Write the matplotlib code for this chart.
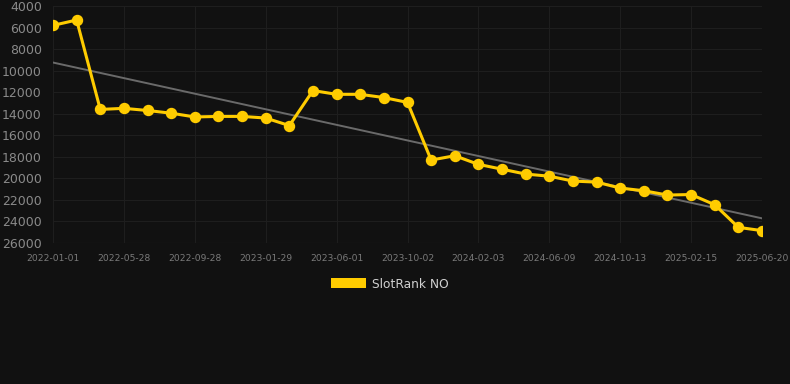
import numpy as np
from matplotlib import pyplot as plt
from matplotlib.patches import Patch

# rank per observation (lower on the chart = worse rank)
ranks = [5800, 5300, 13600, 13500, 13700, 13950, 14300, 14250, 14250, 14400,
         15100, 11850, 12200, 12200, 12500, 12950, 18300, 17900, 18700, 19150,
         19600, 19800, 20250, 20350, 20900, 21150, 21550, 21500, 22450, 24550,
         24850]
tick_labels = ['2022-01-01', '2022-05-28', '2022-09-28', '2023-01-29', '2023-06-01',
               '2023-10-02', '2024-02-03', '2024-06-09', '2024-10-13', '2025-02-15',
               '2025-06-20']
y_ticks = [4000, 6000, 8000, 10000, 12000, 14000, 16000, 18000, 20000, 22000, 24000, 26000]
series_name = 'SlotRank NO'

bg = '#111111'
gold = '#FFCC00'

x = np.arange(len(ranks))
slope, intercept = np.polyfit(x, ranks, 1)
trend = slope * x + intercept

fig = plt.figure(figsize=(7.9, 3.84), dpi=100, facecolor=bg)
ax = fig.add_axes([53 / 790, 1 - 243 / 384, (762 - 53) / 790, (243 - 6) / 384])
ax.set_facecolor(bg)

ax.plot(x, trend, color='#6a6a6a', linewidth=1.4, zorder=2)
ax.plot(x, ranks, color=gold, linewidth=2.2, marker='o', markersize=7.2, zorder=3)

ax.set_xlim(0, len(ranks) - 1)
ax.set_ylim(26000, 4000)
ax.set_yticks(y_ticks)
ax.set_xticks(x[::3])
ax.set_xticklabels(tick_labels)

ax.grid(True, color='#1e1e1e', linewidth=0.8)
ax.axhline(26000, color='#2a2a2a', linewidth=0.8, zorder=1)
ax.set_axisbelow(True)
for s in ax.spines.values():
    s.set_visible(False)
ax.tick_params(axis='y', colors='#8a8a8a', labelsize=9, length=0, pad=8)
ax.tick_params(axis='x', colors='#7a7a7a', labelsize=6.6, length=0, pad=8)

fig.legend(handles=[Patch(facecolor=gold, label=series_name)],
           loc='center', bbox_to_anchor=(390 / 790, 1 - 284 / 384),
           frameon=False, labelcolor='#d0d0d0', fontsize=8.8,
           handlelength=2.9, handleheight=0.9, handletextpad=0.5)

fig.savefig('out.png', dpi=100, facecolor=bg)
